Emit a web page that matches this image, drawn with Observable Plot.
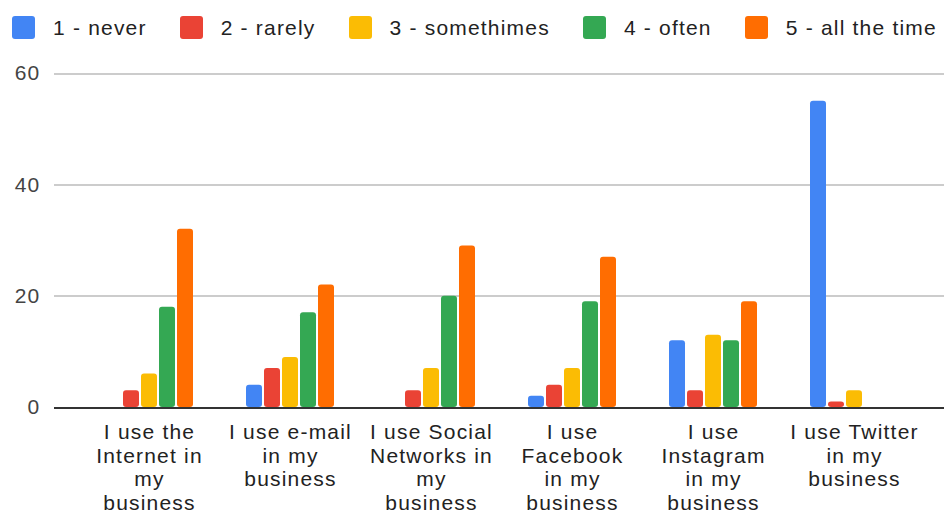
<!DOCTYPE html>
<html>
<head>
<meta charset="utf-8">
<script src="https://cdn.jsdelivr.net/npm/d3@7"></script>
<script src="https://cdn.jsdelivr.net/npm/@observablehq/plot@0.6"></script>
<style>
  html, body { margin: 0; padding: 0; background: #fff; }
  body { width: 944px; height: 512px; overflow: hidden; font-family: "Liberation Sans", Arial, sans-serif; }
  #legend { height: 55px; display: flex; align-items: center; padding-left: 12px; box-sizing: border-box; }
  .item { display: flex; align-items: center; margin-right: 33px; }
  .sw { width: 23px; height: 23px; border-radius: 3px; margin-right: 18px; }
  .lbl { font-size: 21px; letter-spacing: 1.2px; color: #222; white-space: nowrap; }
</style>
</head>
<body>
<div id="legend"></div>
<div id="chart"></div>
<script>
const categories = [
  "I use the Internet in my business",
  "I use e-mail in my business",
  "I use Social Networks in my business",
  "I use Facebook in my business",
  "I use Instagram in my business",
  "I use Twitter in my business"
];
const tickLabels = [
  "I use the\nInternet in\nmy\nbusiness",
  "I use e-mail\nin my\nbusiness",
  "I use Social\nNetworks in\nmy\nbusiness",
  "I use\nFacebook\nin my\nbusiness",
  "I use\nInstagram\nin my\nbusiness",
  "I use Twitter\nin my\nbusiness"
];
const series = ["1 - never", "2 - rarely", "3 - somethimes", "4 - often", "5 - all the time"];
const colors = ["#4285F4", "#EA4335", "#FBBC04", "#34A853", "#FF6D01"];
const never     = [0, 4, 0, 2, 12, 55];
const rarely    = [3, 7, 3, 4, 3, 1];
const sometimes = [6, 9, 7, 7, 13, 3];
const often     = [18, 17, 20, 19, 12, 0];
const allTheTime= [32, 22, 29, 27, 19, 0];
const yTicks = [0, 20, 40, 60];

const seriesValues = [never, rarely, sometimes, often, allTheTime];
const data = [];
categories.forEach((c, i) => {
  series.forEach((s, j) => data.push({category: c, series: s, value: seriesValues[j][i]}));
});

// legend
const legend = document.getElementById("legend");
series.forEach((s, j) => {
  const it = document.createElement("div");
  it.className = "item";
  const sw = document.createElement("div");
  sw.className = "sw";
  sw.style.background = colors[j];
  const lb = document.createElement("span");
  lb.className = "lbl";
  lb.textContent = s;
  it.appendChild(sw); it.appendChild(lb);
  legend.appendChild(it);
});

const labelOf = new Map(categories.map((c, i) => [c, tickLabels[i]]));

const chart = Plot.plot({
  width: 944,
  height: 457,
  marginTop: 18,
  marginBottom: 105,
  marginLeft: 55,
  marginRight: 0,
  style: {fontFamily: '"Liberation Sans", Arial, sans-serif', fontSize: "21px", letterSpacing: "1.2px", color: "#333", background: "#fff", overflow: "visible"},
  fx: {domain: categories, paddingInner: 0.362, paddingOuter: 0.332, align: 0.52, axis: null, label: null},
  x: {domain: series, paddingInner: 0.111, paddingOuter: 0.0555, axis: null},
  y: {domain: [0, 60], axis: null},
  color: {domain: series, range: colors},
  marks: [
    Plot.ruleY(yTicks.filter(d => d !== 0), {y: d => d, stroke: "#cccccc", strokeWidth: 2, shapeRendering: "crispEdges", insetLeft: -50, insetRight: -52}),
    Plot.text(yTicks, {fx: () => categories[0], y: d => d, text: d => String(d), frameAnchor: "left", textAnchor: "end", dx: -64, fill: "#444"}),
    Plot.barY(data, {fx: "category", x: "series", y: "value", fill: "series", rx: 3}),
    Plot.ruleY([0], {stroke: "#333", strokeWidth: 2, shapeRendering: "crispEdges", insetLeft: -50, insetRight: -52}),
    Plot.axisFx({anchor: "bottom", tickSize: 0, tickPadding: 15, lineHeight: 1.12, tickFormat: d => labelOf.get(d), fill: "#222", label: null})
  ]
});
document.getElementById("chart").appendChild(chart);
</script>
</body>
</html>
